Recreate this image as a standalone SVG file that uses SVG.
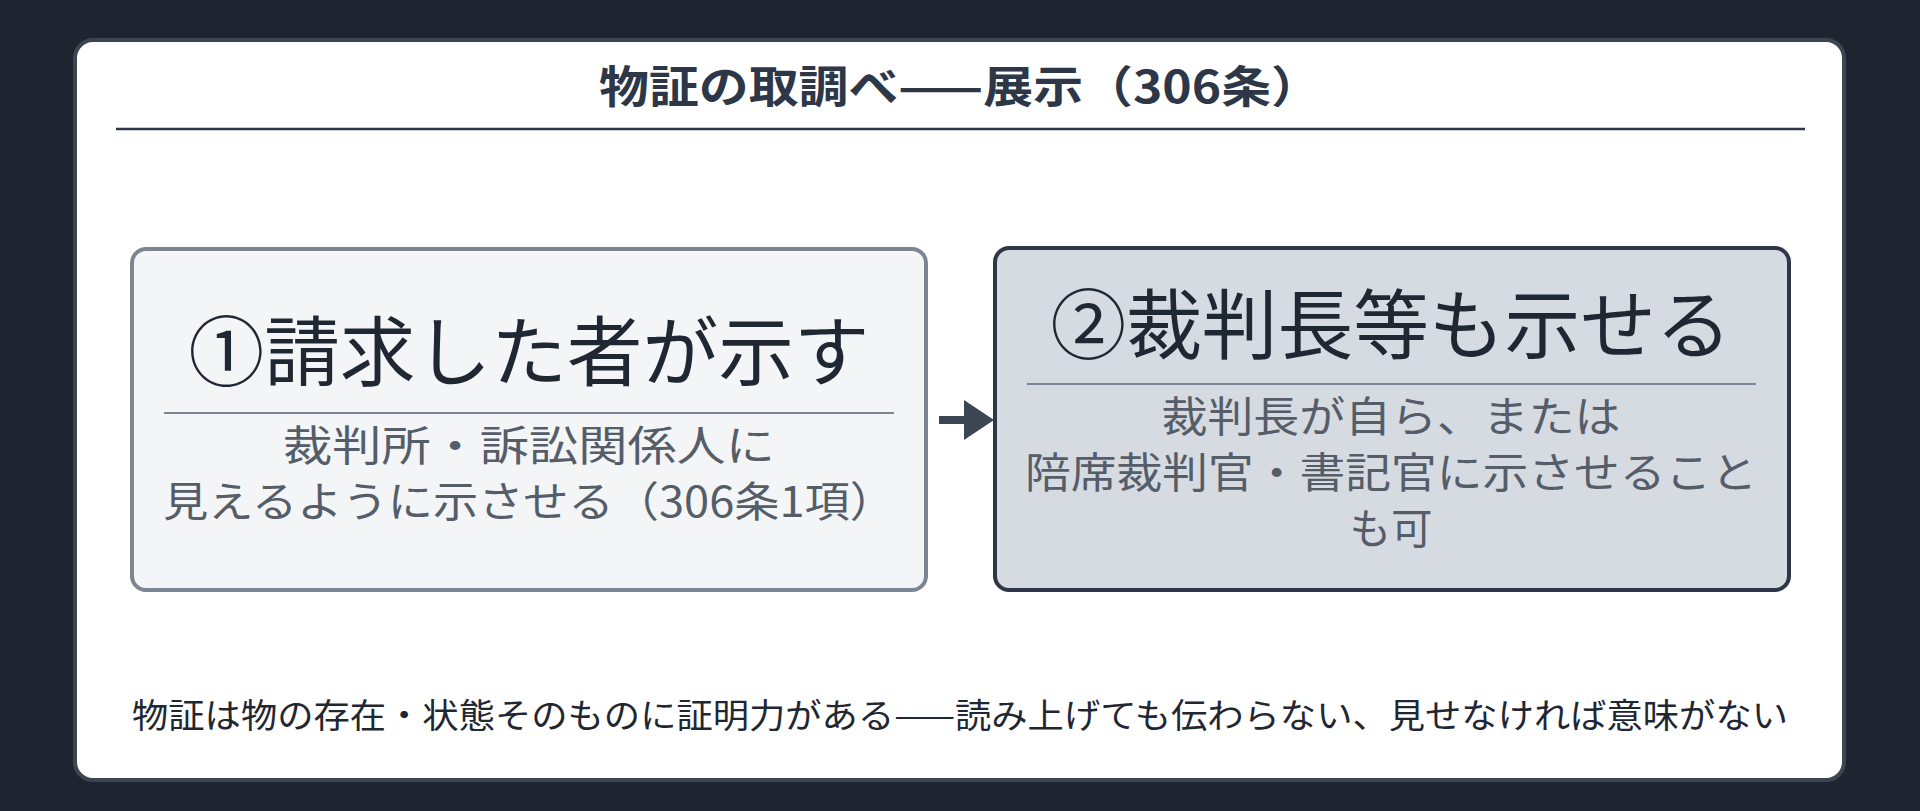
<svg xmlns="http://www.w3.org/2000/svg" width="1920" height="811" viewBox="0 0 1920 811">
<style>
text{font-family:"Noto Sans CJK JP","Noto Sans",sans-serif;text-anchor:middle}
.t{font-size:76px;fill:#1f2733}
.s{font-size:42px;fill:#555d69}
</style>
<rect width="1920" height="811" fill="#1e2530"/>
<rect x="75" y="40" width="1769" height="740" rx="18" fill="#fff" stroke="#3c4552" stroke-width="4"/>
<text x="960" y="103" textLength="722" lengthAdjust="spacingAndGlyphs" style="font-size:44px;font-weight:bold;fill:#2d3748">物証の取調べ——展示（306条）</text>
<line x1="116" y1="129" x2="1805" y2="129" stroke="#2d3748" stroke-width="2.5"/>
<g id="connectors"><path d="M939 420H970" stroke="#3c4552" stroke-width="8"/><path d="M964 400L994 420L964 440Z" fill="#3c4552"/></g>
<g id="n1">
<rect x="132" y="249" width="794" height="341" rx="14" fill="#f4f5f7" stroke="#7b8594" stroke-width="4"/>
<text class="t" x="529" y="380" textLength="681" lengthAdjust="spacingAndGlyphs">①請求した者が示す</text>
<line x1="164" y1="413" x2="894" y2="413" stroke="#7b8594" stroke-width="2"/>
<text class="s" x="529" y="461" textLength="492" lengthAdjust="spacingAndGlyphs">裁判所・訴訟関係人に</text>
<text class="s" x="529" y="517" textLength="732" lengthAdjust="spacingAndGlyphs">見えるように示させる（306条1項）</text>
</g>
<g id="n2">
<rect x="995" y="248" width="794" height="342" rx="14" fill="#d6dbe2" stroke="#2d3748" stroke-width="4"/>
<text class="t" x="1391" y="353" textLength="681" lengthAdjust="spacingAndGlyphs">②裁判長等も示せる</text>
<line x1="1027" y1="384" x2="1756" y2="384" stroke="#7b8594" stroke-width="2"/>
<text class="s" x="1391" y="432" textLength="459" lengthAdjust="spacingAndGlyphs">裁判長が自ら、または</text>
<text class="s" x="1391" y="488" textLength="732" lengthAdjust="spacingAndGlyphs">陪席裁判官・書記官に示させること</text>
<text class="s" x="1391" y="544" textLength="83" lengthAdjust="spacingAndGlyphs">も可</text>
</g>
<text x="960" y="728" textLength="1656" lengthAdjust="spacingAndGlyphs" style="font-size:34px;fill:#1f2733">物証は物の存在・状態そのものに証明力がある——読み上げても伝わらない、見せなければ意味がない</text>
</svg>
